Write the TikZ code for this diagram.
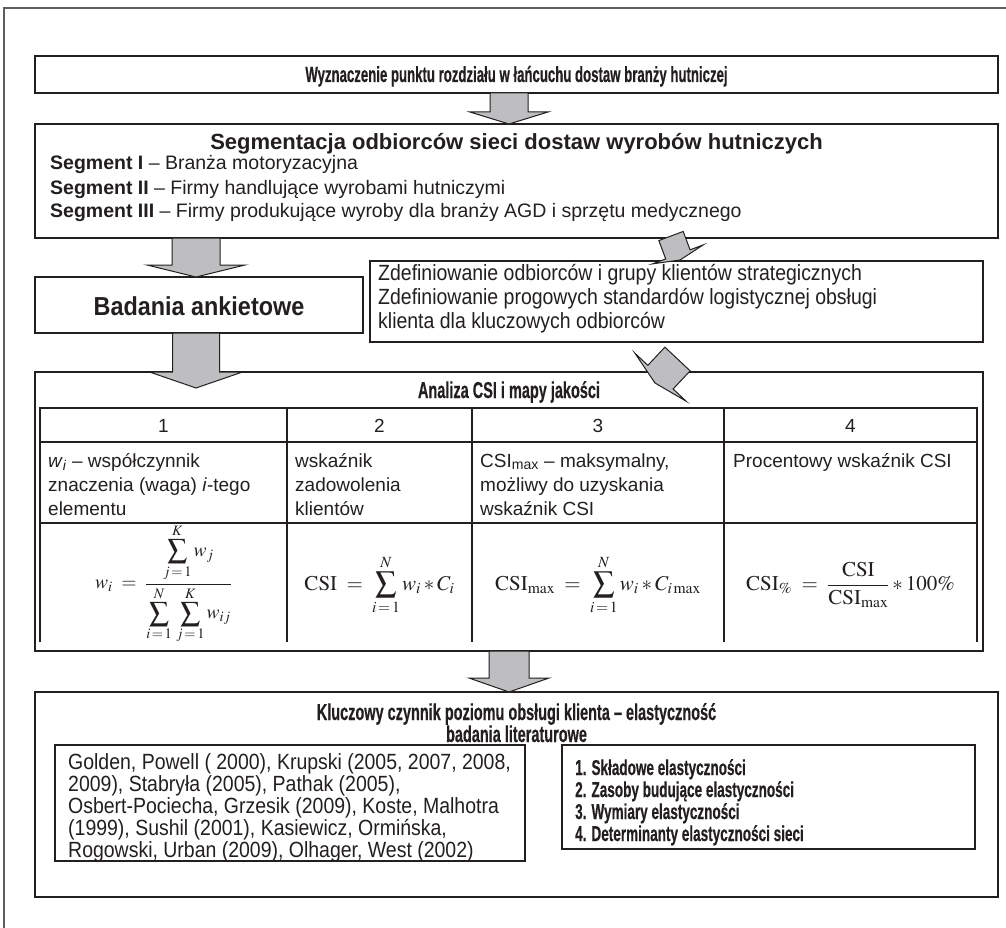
\documentclass[tikz,border=0pt]{standalone}
\usepackage{mathptmx}
\usepackage[no-math]{fontspec}
\setmainfont{Liberation Sans}
\newfontfamily\cndb[FakeStretch=0.63, FakeBold=0.4]{Liberation Sans}
\newfontfamily\cndt[FakeStretch=0.6, FakeBold=0.4]{Liberation Sans}
\newfontfamily\cndr[FakeStretch=0.885]{Liberation Sans}
\newfontfamily\cndm[FakeStretch=0.9]{Liberation Sans}
\usetikzlibrary{calc}

\definecolor{ink}{RGB}{35,31,32}
\definecolor{frameink}{RGB}{95,95,95}
\definecolor{arrfill}{RGB}{190,190,193}

% block arrow: #1 shaft start, #2 tip, #3 half shaft width, #4 half head width, #5 head length
\newcommand{\blockarrow}[5]{%
  \coordinate (ba-h) at ($(#2)!#5!(#1)$);
  \draw[blockarr] ($(#1)!#3!90:(#2)$) -- ($(ba-h)!#3!90:(#2)$) -- ($(ba-h)!#4!90:(#2)$)
    -- (#2) -- ($(ba-h)!#4!-90:(#2)$) -- ($(ba-h)!#3!-90:(#2)$) -- ($(#1)!#3!-90:(#2)$) -- cycle;}

\begin{document}
\begin{tikzpicture}[x=1pt,y=-1pt,
  box/.style={draw=ink, line width=1.3pt, inner sep=0pt, outer sep=0pt, anchor=north west},
  blockarr/.style={draw=ink, line width=1pt, fill=arrfill, line join=miter},
  grid/.style={draw=ink, line width=1.1pt},
  ttl/.style={inner sep=0pt, anchor=base, text=ink, font=\cndb\bfseries\fontsize{23}{26}\selectfont},
  body/.style={inner sep=0pt, anchor=base west, text=ink, font=\fontsize{19.5}{23}\selectfont},
  narrow/.style={inner sep=0pt, anchor=base west, text=ink, font=\cndr\fontsize{22}{25}\selectfont},
  listb/.style={inner sep=0pt, anchor=base west, text=ink, font=\cndb\bfseries\fontsize{21.5}{24}\selectfont},
  cell/.style={inner sep=0pt, anchor=base west, text=ink, font=\fontsize{19}{23}\selectfont},
  num/.style={inner sep=0pt, anchor=base, text=ink, font=\fontsize{19}{23}\selectfont},
  formula/.style={inner sep=0pt, anchor=center, text=ink, font=\fontsize{21}{25}\selectfont},
]
\useasboundingbox (0,0) rectangle (1006,928);
\fill[white] (0,0) rectangle (1006,928);
\draw[draw=frameink, line width=1.2pt] (4,8) rectangle (1040,960);

% boxes
\node[box, minimum width=963pt, minimum height=37pt]  (wyz)  at (35,56)  {};
\node[box, minimum width=963pt, minimum height=114pt] (seg)  at (35,124) {};
\node[box, minimum width=328pt, minimum height=56pt]  (ank)  at (35,277) {};
\node[box, minimum width=613pt, minimum height=81pt]  (zdef) at (370,261) {};
\node[box, minimum width=948pt, minimum height=279pt] (csi)  at (35,372) {};
\node[box, minimum width=963pt, minimum height=205pt] (klu)  at (35,692) {};
\node[box, minimum width=470pt, minimum height=116pt] (lit)  at (55,745) {};
\node[box, minimum width=413pt, minimum height=104pt] (elem) at (562,745) {};

% table of the CSI analysis
\draw[grid] (40,642) -- (40,408) -- (977,408) -- (977,642);
\draw[grid] (40,442) -- (977,442);
\draw[grid] (40,523) -- (977,523);
\foreach \x in {287,472,724} \draw[grid] (\x,408) -- (\x,642);

% texts
\node[ttl, font=\cndt\bfseries\fontsize{22}{26}\selectfont] (t-wyz) at (516.5,82)
  {Wyznaczenie punktu rozdziału w łańcuchu dostaw branży hutniczej};
\node[inner sep=0pt, anchor=base, text=ink, font=\bfseries\fontsize{22}{26}\selectfont] (t-seg) at (516.5,150)
  {Segmentacja odbiorców sieci dostaw wyrobów hutniczych};
\node[body] (s1) at (50,170) {\textbf{Segment I} – Branża motoryzacyjna};
\node[body] (s2) at (50,194) {\textbf{Segment II} – Firmy handlujące wyrobami hutniczymi};
\node[body] (s3) at (50,218) {\textbf{Segment III} – Firmy produkujące wyroby dla branży AGD i sprzętu medycznego};

\node[inner sep=0pt, anchor=base, text=ink, font=\cndm\bfseries\fontsize{26}{30}\selectfont] (t-ank) at (199,315) {Badania ankietowe};

\node[narrow] (z1) at (378,280) {Zdefiniowanie odbiorców i grupy klientów strategicznych};
\node[narrow] (z2) at (378,304) {Zdefiniowanie progowych standardów logistycznej obsługi};
\node[narrow] (z3) at (378,328) {klienta dla kluczowych odbiorców};

\node[ttl] (t-csi) at (509,398) {Analiza CSI i mapy jakości};
\node[num] (h1) at (163.5,432) {1};
\node[num] (h2) at (379.5,432) {2};
\node[num] (h3) at (598,432) {3};
\node[num] (h4) at (850.5,432) {4};

\node[cell] (c11) at (48,467) {\textit{w}\textsubscript{\textit{i}} – współczynnik};
\node[cell] (c12) at (48,491) {znaczenia (waga) \textit{i}-tego};
\node[cell] (c13) at (48,515) {elementu};
\node[cell] (c21) at (295,467) {wskaźnik};
\node[cell] (c22) at (295,491) {zadowolenia};
\node[cell] (c23) at (295,515) {klientów};
\node[cell] (c31) at (480,467) {CSI\textsubscript{max} – maksymalny,};
\node[cell] (c32) at (480,491) {możliwy do uzyskania};
\node[cell] (c33) at (480,515) {wskaźnik CSI};
\node[cell] (c41) at (733,467) {Procentowy wskaźnik CSI};

\node[formula, font=\fontsize{19.5}{23}\selectfont] (f1) at (163.5,584)
  {$\displaystyle w_i\;=\;\frac{\displaystyle\sum_{j\,=\,1}^{K} w_j}{\displaystyle\sum_{i\,=\,1}^{N}\,\sum_{j\,=\,1}^{K} w_{ij}}$};
\node[formula] (f2) at (379.5,585) {$\displaystyle \mathrm{CSI}\;=\;\sum_{i\,=\,1}^{N} w_i * C_i$};
\node[formula] (f3) at (598,585) {$\displaystyle \mathrm{CSI}_{\max}\;=\;\sum_{i\,=\,1}^{N} w_i * C_{i\max}$};
\node[formula] (f4) at (850.5,585) {$\displaystyle \mathrm{CSI}_{\%}\;=\;\frac{\mathrm{CSI}}{\mathrm{CSI}_{\max}} * 100\%$};

\node[ttl] (t-klu1) at (516.5,720) {Kluczowy czynnik poziomu obsługi klienta – elastyczność};
\node[ttl] (t-klu2) at (516.5,742) {badania literaturowe};

\node[narrow] (l1) at (68,769) {Golden, Powell ( 2000), Krupski (2005, 2007, 2008,};
\node[narrow] (l2) at (68,791) {2009), Stabryła (2005), Pathak (2005),};
\node[narrow] (l3) at (68,813) {Osbert-Pociecha, Grzesik (2009), Koste, Malhotra};
\node[narrow] (l4) at (68,835) {(1999), Sushil (2001), Kasiewicz, Ormińska,};
\node[narrow] (l5) at (68,857) {Rogowski, Urban (2009), Olhager, West (2002)};

\node[listb] (e1) at (575,775) {1. Składowe elastyczności};
\node[listb] (e2) at (575,797) {2. Zasoby budujące elastyczności};
\node[listb] (e3) at (575,819) {3. Wymiary elastyczności};
\node[listb] (e4) at (575,841) {4. Determinanty elastyczności sieci};

% block arrows between the boxes
\coordinate (a1s) at ($(wyz.south)+(-7.5,0)$);
\coordinate (a1t) at (a1s |- seg.north);
\blockarrow{a1s}{a1t}{19pt}{39pt}{12pt}

\coordinate (a2s) at ($(seg.south west)+(161,0)$);
\coordinate (a2t) at (a2s |- ank.north);
\blockarrow{a2s}{a2t}{24pt}{49pt}{12pt}

\coordinate (a3s) at ($(ank.south west)+(161,0)$);
\coordinate (a3t) at ($(a3s |- csi.north)+(0,16)$);
\blockarrow{a3s}{a3t}{23.5pt}{46.5pt}{16pt}

\coordinate (a4s) at (csi.south);
\coordinate (a4t) at (a4s |- klu.north);
\blockarrow{a4s}{a4t}{20pt}{40pt}{14pt}

% tilted arrows towards and from the definition box
\coordinate (a5s) at (671,236);
\coordinate (a5t) at (680,260);
\blockarrow{a5s}{a5t}{13pt}{27pt}{6pt}

\coordinate (a6s) at (677.5,359);
\coordinate (a6t) at (655,383);
\blockarrow{a6s}{a6t}{17.3pt}{35pt}{8pt}
\end{tikzpicture}
\end{document}
